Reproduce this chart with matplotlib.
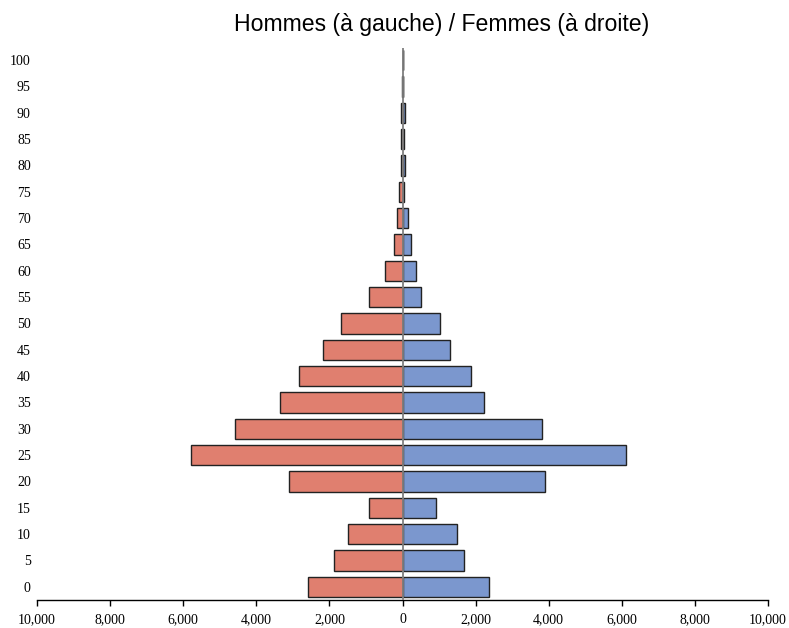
#!/usr/bin/env python3
"""Population pyramid: men on the left, women on the right."""

import matplotlib
matplotlib.use("Agg")
import matplotlib.pyplot as plt
from matplotlib.ticker import FuncFormatter

AGES = [0, 5, 10, 15, 20, 25, 30, 35, 40, 45, 50,
        55, 60, 65, 70, 75, 80, 85, 90, 95, 100]
MEN = [2580, 1870, 1480, 920, 3100, 5780, 4575, 3350, 2840, 2180, 1690,
       930, 470, 220, 140, 105, 50, 50, 50, 8, 0]
WOMEN = [2370, 1680, 1480, 915, 3900, 6120, 3820, 2220, 1875, 1305, 1020,
         510, 375, 220, 145, 40, 65, 40, 65, 8, 0]
X_TICKS = [-10000, -8000, -6000, -4000, -2000, 0, 2000, 4000, 6000, 8000, 10000]
TITLE = "Hommes (à gauche) / Femmes (à droite)"

RED = "#E07F6F"
BLUE = "#7B97CE"

fig = plt.figure(figsize=(7.89, 6.28), dpi=100)
ax = fig.add_axes([37 / 789, 1 - 600 / 628, 731 / 789, 552 / 628])

ax.barh(AGES, [-m for m in MEN], height=3.9, color=RED,
        edgecolor="#222222", linewidth=1.0, zorder=2)
ax.barh(AGES, WOMEN, height=3.9, color=BLUE,
        edgecolor="#222222", linewidth=1.0, zorder=2)
ax.axvline(0, color="#7f7f7f", lw=1.3, zorder=3)

ax.set_xlim(-10000, 10000)
ax.set_ylim(-2.5, 102.3)
ax.set_xticks(X_TICKS)
ax.xaxis.set_major_formatter(FuncFormatter(lambda v, _: f"{abs(v):,.0f}"))
ax.set_yticks(AGES)

for s in ("top", "right", "left"):
    ax.spines[s].set_visible(False)
ax.spines["bottom"].set_linewidth(1.0)

ax.tick_params(axis="y", length=0, pad=4.5)
ax.tick_params(axis="x", length=4, width=1.0, pad=5.5)
for lab in ax.get_xticklabels() + ax.get_yticklabels():
    lab.set_fontfamily("Liberation Serif")
    lab.set_fontsize(10)

fig.text(441.5 / 789, 1 - 25 / 628, TITLE, ha="center", va="center",
         fontsize=16.6, family="Liberation Sans")

fig.savefig("out.png", dpi=100)
